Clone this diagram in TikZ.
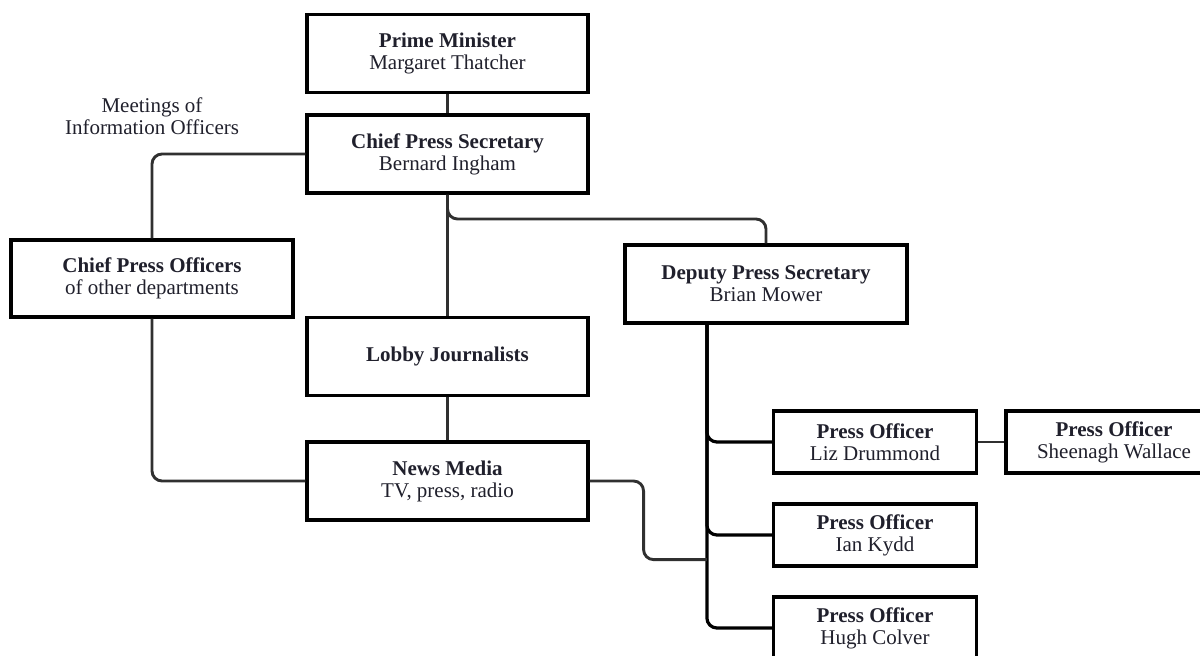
\documentclass[tikz,border=0pt]{standalone}
\usepackage{fontspec}
\setmainfont{Liberation Serif}
\usetikzlibrary{calc}
\definecolor{ink}{RGB}{32,32,44}
\definecolor{wirecol}{RGB}{48,48,48}
\tikzset{
  box/.style={draw=black, line width=3.2pt, fill=white, minimum width=281pt,
    minimum height=78pt, inner sep=0pt, align=center, text=ink,
    font=\fontsize{21}{22}\selectfont},
  smallbox/.style={box, minimum width=203pt, minimum height=62pt},
  wire/.style={draw=wirecol, line width=2.9pt, rounded corners=10pt},
  trunk/.style={draw=black, line width=3.2pt, rounded corners=10pt},
  note/.style={align=center, text=ink, inner sep=0pt, font=\fontsize{21}{22}\selectfont},
}
\newcommand{\roleline}[2]{\textbf{#1}\\#2}
\begin{document}
\begin{tikzpicture}[x=1pt, y=-1pt]
  \useasboundingbox (0,0) rectangle (1200,656);
  \clip (0,0) rectangle (1200,656);

  % boxes
  \node[box] (pm)   at (447.5,53.5) {\roleline{Prime Minister}{Margaret Thatcher}};
  \node[box] (cps)  at (447.5,154)  {\roleline{Chief Press Secretary}{Bernard Ingham}};
  \node[box, minimum width=282pt, minimum height=77pt] (cpo) at (152,278.5)
        {\roleline{Chief Press Officers}{of other departments}};
  \node[box] (lj)   at (447.5,356.5) {\textbf{Lobby Journalists}};
  \node[box] (nm)   at (447.5,481)   {\roleline{News Media}{TV, press, radio}};
  \node[box, minimum width=282pt] (dps) at (766,284)
        {\roleline{Deputy Press Secretary}{Brian Mower}};
  \node[smallbox] (liz)  at (875,442) {\roleline{Press Officer}{Liz Drummond}};
  \node[smallbox] (ian)  at (875,535) {\roleline{Press Officer}{Ian Kydd}};
  \node[smallbox] (hugh) at (875,628) {\roleline{Press Officer}{Hugh Colver}};
  \node[smallbox, minimum width=216pt] (shee) at (1114,442)
        {\roleline{Press Officer}{Sheenagh Wallace}};

  \node[note] (meet) at (152,116) {Meetings of\\Information Officers};

  % connectors
  \draw[wire] (pm.south) -- (cps.north);
  \draw[wire] (cps.west) -| (cpo.north);
  \draw[wire] (cpo.south) |- (nm.west);
  \draw[wire] (cps.south) -- (lj.north);
  \draw[wire] (lj.south) -- (nm.north);
  \draw[wire] (cps.south) |- ($(cps.south)!0.5!(dps.north)$) -| (dps.north);

  \coordinate (trunktop) at ($(dps.south west)+(83.5,0)$);
  \coordinate (join) at ($(trunktop)+(0,235)$);
  \draw[trunk] (trunktop) |- (liz.west);
  \draw[trunk] (trunktop) |- (ian.west);
  \draw[trunk] (trunktop) |- (hugh.west);
  \draw[wire] (liz.east) -- (shee.west);
  \draw[wire] (nm.east) -| ($(nm.east)!0.46!(join)$) |- (join);
\end{tikzpicture}
\end{document}
